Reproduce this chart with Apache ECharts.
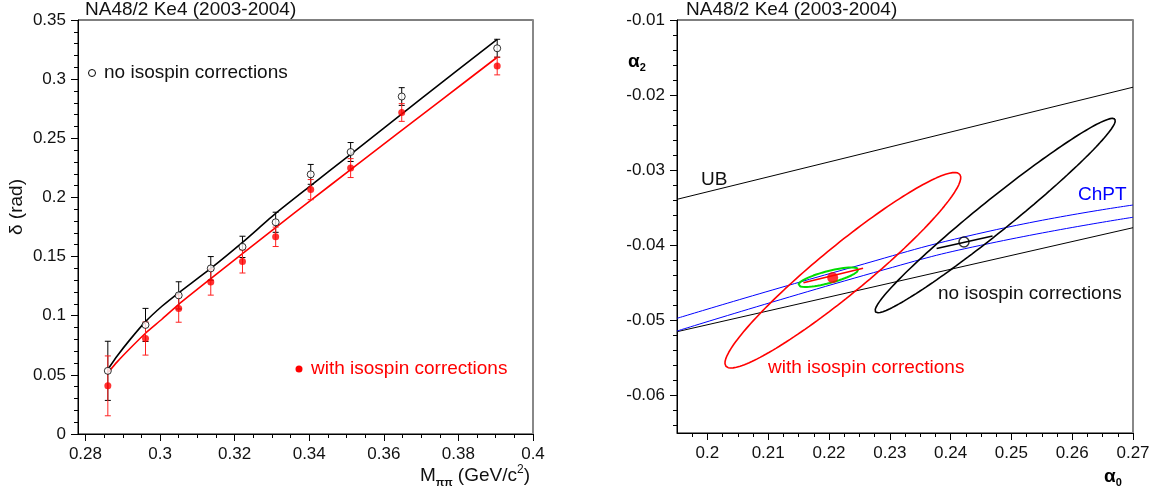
<!DOCTYPE html>
<html><head><meta charset="utf-8">
<script src="https://cdn.jsdelivr.net/npm/echarts@6/dist/echarts.min.js"></script>
<style>html,body{margin:0;padding:0;background:#fff}#c{width:1162px;height:493px}</style>
</head><body><div id="c"></div>
<script>
// ---------- Left panel data: phase shift delta vs M_pipi ----------
const massBins   = [0.2860, 0.2961, 0.3050, 0.3136, 0.3221, 0.3310, 0.3404, 0.3511, 0.3648, 0.3904];
const deltaNoIso = [0.0534, 0.0922, 0.1172, 0.1400, 0.1582, 0.1790, 0.2195, 0.2384, 0.2853, 0.3261];
const errNoIso   = [0.0250, 0.0140, 0.0115, 0.0100, 0.0090, 0.0085, 0.0084, 0.0080, 0.0075, 0.0076];
const deltaIso   = [0.0407, 0.0807, 0.1060, 0.1284, 0.1459, 0.1667, 0.2066, 0.2248, 0.2718, 0.3111];
const errIso     = [0.0253, 0.0140, 0.0115, 0.0110, 0.0098, 0.0082, 0.0085, 0.0080, 0.0075, 0.0075];
const fitNoIso = [[0.2863,0.0560],[0.2885,0.0660],[0.2920,0.0800],[0.2961,0.0950],[0.3005,0.1080],[0.3050,0.1194],
                  [0.3136,0.1400],[0.3221,0.1620],[0.3310,0.1865],[0.3404,0.2100],[0.3511,0.2365],[0.3696,0.2824],[0.3904,0.3337]];
const fitIso   = [[0.2862,0.0525],[0.2885,0.0610],[0.2920,0.0725],[0.2961,0.0852],[0.3005,0.0970],[0.3050,0.1096],
                  [0.3136,0.1313],[0.3221,0.1525],[0.3310,0.1745],[0.3404,0.1975],[0.3511,0.2235],[0.3755,0.2825],[0.3904,0.3185]];
const xMajorLeft = [0.28, 0.30, 0.32, 0.34, 0.36, 0.38, 0.40];
const yMajorLeft = [0, 0.05, 0.10, 0.15, 0.20, 0.25, 0.30, 0.35];

// ---------- Right panel data: (a0, a2) plane ----------
const lineUB      = [[0.195,-0.03388],[0.270,-0.01895]];
const lineLower   = [[0.195,-0.05151],[0.270,-0.03766]];
const chptUpper   = [[0.195,-0.04973],[0.2218,-0.04339],[0.2465,-0.03810],[0.270,-0.03464]];
const chptLower   = [[0.195,-0.05142],[0.2289,-0.04329],[0.2465,-0.03974],[0.270,-0.03627]];
// ellipse: [centre a0, centre a2, half-axis1 a0, half-axis1 a2, half-axis2 a0, half-axis2 a2]
const ellipseNoIso = [0.24734,-0.03604, 0.01969, 0.01284, 0.00165,-0.00166];
const ellipseIso   = [0.22228,-0.04333, 0.01923, 0.01278, 0.00250,-0.00248];
const ellipseChPT  = [0.21989,-0.04425, 0.004934,0.001045,0.000250,-0.000775];
const pointNoIso = [0.2422,-0.03956];
const pointIso   = [0.2206,-0.04430];
const segNoIso = [[0.2377,-0.04043],[0.2469,-0.03876]];
const segIso   = [[0.2158,-0.04499],[0.2256,-0.04307]];
const xMajorRight = [0.20, 0.21, 0.22, 0.23, 0.24, 0.25, 0.26, 0.27];
const yMajorRight = [-0.06, -0.05, -0.04, -0.03, -0.02, -0.01];

function ellipsePts(e, n) {
  const pts = [];
  for (let i = 0; i <= n; i++) {
    const t = 2 * Math.PI * i / n;
    pts.push([e[0] + e[2] * Math.cos(t) + e[4] * Math.sin(t), e[1] + e[3] * Math.cos(t) + e[5] * Math.sin(t)]);
  }
  return pts;
}
function range(a, b, step) { const r = []; for (let v = a; v <= b + step / 10; v += step) r.push(+v.toFixed(5)); return r; }

const FONT = '"Liberation Sans", Arial, Helvetica, sans-serif';
const fmt = v => String(+(+v).toFixed(3));

function majorAxis(grid, min, max, vals, pos) {
  return { type: 'value', gridIndex: grid, min, max, position: pos,
    axisLine: { show: true, lineStyle: { color: '#000', width: 1 } },
    axisTick: { show: true, length: 7, customValues: vals, lineStyle: { color: '#000' } },
    axisLabel: { show: true, customValues: vals, formatter: fmt, fontFamily: FONT, fontSize: 17, color: '#111', margin: 12 },
    splitLine: { show: false } };
}
function minorAxis(grid, min, max, vals, pos) {
  return { type: 'value', gridIndex: grid, min, max, position: pos,
    axisLine: { show: false },
    axisTick: { show: true, length: 4, customValues: vals, lineStyle: { color: '#000' } },
    axisLabel: { show: false }, splitLine: { show: false } };
}
function frameAxis(grid, pos) {
  return { type: 'value', gridIndex: grid, position: pos, min: 0, max: 1,
    axisLine: { show: true, lineStyle: { color: '#888', width: 2 } },
    axisTick: { show: false }, axisLabel: { show: false }, splitLine: { show: false } };
}

function errRender(color) {
  return function (params, api) {
    const x = api.value(0), y = api.value(1), e = api.value(2);
    const top = api.coord([x, y + e]), bot = api.coord([x, y - e]);
    const cw = 3;
    const st = { stroke: color, lineWidth: 1 };
    return { type: 'group', children: [
      { type: 'line', shape: { x1: top[0], y1: top[1], x2: bot[0], y2: bot[1] }, style: st },
      { type: 'line', shape: { x1: top[0] - cw, y1: top[1], x2: top[0] + cw, y2: top[1] }, style: st },
      { type: 'line', shape: { x1: bot[0] - cw, y1: bot[1], x2: bot[0] + cw, y2: bot[1] }, style: st }
    ] };
  };
}

const chart = echarts.init(document.getElementById('c'), null, { renderer: 'canvas' });
const lineS = (xi, yi, data, color, w, smooth, z) => ({ type: 'line', xAxisIndex: xi, yAxisIndex: yi, data, showSymbol: false, symbol: 'none',
  smooth: smooth || false, lineStyle: { color, width: w }, z: z || 2, animation: false, silent: true });

const option = {
  animation: false,
  grid: [
    { left: 78, top: 20, width: 455, height: 414, show: true, borderColor: '#000', borderWidth: 1, backgroundColor: 'transparent' },
    { left: 677, top: 20, width: 456, height: 413, show: true, borderColor: '#000', borderWidth: 1, backgroundColor: 'transparent' }
  ],
  xAxis: [
    majorAxis(0, 0.278, 0.4, xMajorLeft, 'bottom'),
    minorAxis(0, 0.278, 0.4, range(0.28, 0.40, 0.005), 'bottom'),
    majorAxis(1, 0.195, 0.27, xMajorRight, 'bottom'),
    minorAxis(1, 0.195, 0.27, range(0.1975, 0.27, 0.0025), 'bottom')
  ],
  yAxis: [
    majorAxis(0, 0, 0.35, yMajorLeft, 'left'),
    minorAxis(0, 0, 0.35, range(0, 0.35, 0.01), 'left'),
    majorAxis(1, -0.065, -0.01, yMajorRight, 'left'),
    minorAxis(1, -0.065, -0.01, range(-0.064, -0.01, 0.002), 'left'),
    frameAxis(0, 'right'),
    frameAxis(1, 'right')
  ],
  series: [
    // left panel
    lineS(0, 0, fitNoIso, '#000', 1.6, 0.2),
    lineS(0, 0, fitIso, '#ff0000', 1.6, 0.2),
    { type: 'custom', xAxisIndex: 0, yAxisIndex: 0, renderItem: errRender('#000'),
      data: massBins.map((m, i) => [m, deltaNoIso[i], errNoIso[i]]), z: 3, silent: true },
    { type: 'custom', xAxisIndex: 0, yAxisIndex: 0, renderItem: errRender('#ff2020'),
      data: massBins.map((m, i) => [m, deltaIso[i], errIso[i]]), z: 3, silent: true },
    { type: 'scatter', xAxisIndex: 0, yAxisIndex: 0, data: massBins.map((m, i) => [m, deltaIso[i]]),
      symbol: 'circle', symbolSize: 7, itemStyle: { color: '#ff0000' }, z: 4, silent: true },
    { type: 'scatter', xAxisIndex: 0, yAxisIndex: 0, data: massBins.map((m, i) => [m, deltaNoIso[i]]),
      symbol: 'circle', symbolSize: 7, itemStyle: { color: '#fff', borderColor: '#000', borderWidth: 1 }, z: 5, silent: true },
    // right panel
    lineS(2, 2, lineUB, '#000', 1, false),
    lineS(2, 2, lineLower, '#000', 1, false),
    lineS(2, 2, chptUpper, '#0000ff', 1, true),
    lineS(2, 2, chptLower, '#0000ff', 1, true),
    lineS(2, 2, ellipsePts(ellipseNoIso, 180), '#000', 1.6, false, 3),
    lineS(2, 2, ellipsePts(ellipseIso, 180), '#ff0000', 1.6, false, 3),
    lineS(2, 2, ellipsePts(ellipseChPT, 120), '#00dd00', 2, false, 3),
    lineS(2, 2, segNoIso, '#000', 1.6, false, 4),
    lineS(2, 2, segIso, '#ff0000', 1.6, false, 4),
    { type: 'scatter', xAxisIndex: 2, yAxisIndex: 2, data: [pointNoIso], symbol: 'circle', symbolSize: 10,
      itemStyle: { color: 'rgba(255,255,255,0)', borderColor: '#000', borderWidth: 1.5 }, z: 5, silent: true },
    { type: 'scatter', xAxisIndex: 2, yAxisIndex: 2, data: [pointIso], symbol: 'circle', symbolSize: 11,
      itemStyle: { color: '#ff0000' }, z: 5, silent: true }
  ],
  graphic: [
    { type: 'text', x: 85, y: 10, style: { text: 'NA48/2 Ke4 (2003-2004)', font: '19px ' + FONT, fill: '#111', verticalAlign: 'middle' } },
    { type: 'text', x: 686, y: 10, style: { text: 'NA48/2 Ke4 (2003-2004)', font: '19px ' + FONT, fill: '#111', verticalAlign: 'middle' } },
    { type: 'circle', shape: { cx: 92, cy: 73, r: 3.5 }, style: { fill: '#fff', stroke: '#000', lineWidth: 1 } },
    { type: 'text', x: 104, y: 73, style: { text: 'no isospin corrections', font: '19px ' + FONT, fill: '#111', verticalAlign: 'middle' } },
    { type: 'circle', shape: { cx: 299, cy: 369, r: 3.5 }, style: { fill: '#ff0000' } },
    { type: 'text', x: 311, y: 369, style: { text: 'with isospin corrections', font: '19px ' + FONT, fill: '#ff0000', verticalAlign: 'middle' } },
    { type: 'text', x: 17, y: 207, rotation: Math.PI / 2, style: { text: 'δ (rad)', font: '19px ' + FONT, fill: '#111', align: 'center', verticalAlign: 'middle' } },
    { type: 'text', x: 530, y: 476, style: {
        text: '{m|M}{s|ππ}{m| (GeV/c}{p|2}{m|)}', align: 'right', verticalAlign: 'middle', fill: '#111',
        rich: {
          m: { fontFamily: FONT, fontSize: 19, lineHeight: 24, verticalAlign: 'middle', fill: '#111' },
          s: { fontFamily: FONT, fontSize: 11, fontWeight: 'bold', lineHeight: 14, verticalAlign: 'bottom', fill: '#111' },
          p: { fontFamily: FONT, fontSize: 12, lineHeight: 14, verticalAlign: 'top', fill: '#111' }
        } } },
    { type: 'text', x: 701, y: 180, style: { text: 'UB', font: '19px ' + FONT, fill: '#111', verticalAlign: 'middle' } },
    { type: 'text', x: 1078, y: 195, style: { text: 'ChPT', font: '19px ' + FONT, fill: '#0000ff', verticalAlign: 'middle' } },
    { type: 'text', x: 938, y: 294, style: { text: 'no isospin corrections', font: '19px ' + FONT, fill: '#111', verticalAlign: 'middle' } },
    { type: 'text', x: 768, y: 368, style: { text: 'with isospin corrections', font: '19px ' + FONT, fill: '#ff0000', verticalAlign: 'middle' } },
    { type: 'text', x: 637, y: 62, style: {
        text: '{a|α}{s|2}', align: 'center', verticalAlign: 'middle',
        rich: { a: { fontFamily: FONT, fontSize: 19, fontWeight: 'bold', lineHeight: 22, verticalAlign: 'middle', fill: '#000' },
                s: { fontFamily: FONT, fontSize: 11, fontWeight: 'bold', lineHeight: 12, verticalAlign: 'bottom', fill: '#000' } } } },
    { type: 'text', x: 1113, y: 477, style: {
        text: '{a|α}{s|0}', align: 'center', verticalAlign: 'middle',
        rich: { a: { fontFamily: FONT, fontSize: 19, fontWeight: 'bold', lineHeight: 22, verticalAlign: 'middle', fill: '#000' },
                s: { fontFamily: FONT, fontSize: 11, fontWeight: 'bold', lineHeight: 12, verticalAlign: 'bottom', fill: '#000' } } } }
  ]
};
chart.setOption(option);
</script>
</body></html>
